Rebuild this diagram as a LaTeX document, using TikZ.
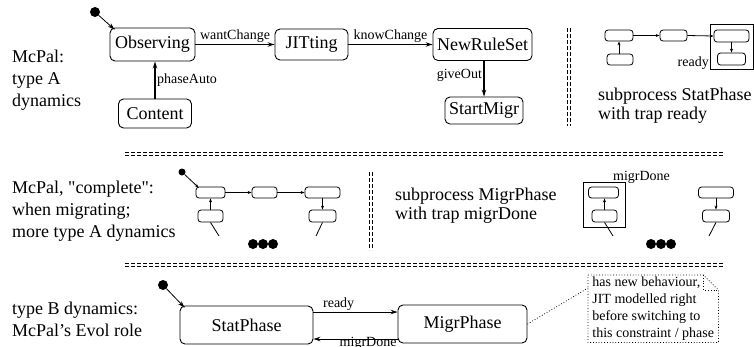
\documentclass[tikz,border=0pt]{standalone}
\usepackage{fontspec}
\setmainfont{Liberation Serif}
\usetikzlibrary{arrows.meta}
\begin{document}
\begin{tikzpicture}[x=1pt,y=-1pt,
  st/.style={draw, rounded corners=5, line width=0.9, inner sep=0, font=\fontsize{18}{18}\selectfont},
  mini/.style={draw, rounded corners=3, line width=0.8, inner sep=0},
  lbl/.style={font=\fontsize{14}{14}\selectfont, inner sep=1.5},
  big/.style={font=\fontsize{18}{22}\selectfont, align=left, inner sep=0},
  sub/.style={font=\fontsize{18}{18.5}\selectfont, align=left, inner sep=0},
  tr/.style={-{Stealth[length=7,width=4.5]}, line width=1.1},
  mtr/.style={-{Stealth[length=4,width=3]}, line width=0.8},
  sepl/.style={dash pattern=on 4 off 2, line width=0.8},
  initdot/.style={circle, fill, inner sep=0, minimum size=#1},
]
\useasboundingbox (0,0) rectangle (754,346);

% ---------- row 1 ----------
\node[big, anchor=north west] (t1) at (12,50) {McPal:\\type A\\dynamics};
\node[initdot=10] (i1) at (95,12) {};
\node[st, minimum width=85, minimum height=33] (obs) at (152.5,44.5) {Observing};
\node[st, minimum width=73, minimum height=31] (jit) at (311.5,44.5) {JITting};
\node[st, minimum width=99, minimum height=32] (nrs) at (482.5,44.5) {NewRuleSet};
\node[st, minimum width=73, minimum height=29] (cont) at (155,113.5) {Content};
\node[st, minimum width=78, minimum height=27] (sm) at (484,110.5) {StartMigr};
\draw[tr, line width=0.8] (i1) -- ([shift={(5,2)}]obs.north west);
\draw[tr] (obs.east) -- node[lbl, above] {wantChange} (jit.west);
\draw[tr] (jit.east) -- node[lbl, above] {knowChange} (nrs.west);
\draw[tr] (cont.north) -- node[lbl, right] {phaseAuto} (cont.north |- obs.south);
\draw[tr] (sm.north |- nrs.south) -- node[lbl, left, pos=0.4] {giveOut} (sm.north);

\draw[sepl] (567,28) -- (567,126);
\draw[sepl] (570,28) -- (570,126);

% mini StatPhase
\node[mini, minimum width=28, minimum height=11] (m1) at (619,35.5) {};
\node[mini, minimum width=26, minimum height=11] (m2) at (620,59.5) {};
\node[mini, minimum width=27, minimum height=11] (m3) at (673.5,35.5) {};
\node[draw, line width=0.8, minimum width=43, minimum height=45, inner sep=0] (sq1) at (731.5,46.5) {};
\node[mini, minimum width=35, minimum height=12] (m4) at (731.5,36) {};
\node[mini, minimum width=28, minimum height=12] (m5) at (731.5,59) {};
\draw[mtr] (m2.north -| m1.south) -- (m1.south);
\draw[mtr] (m1.east) -- (m3.west);
\draw[mtr] (m3.east) -- (m4.west);
\draw[mtr] (m4.south) -- (m5.north);
\node[lbl, anchor=base east, inner sep=0] (rdy1) at (709,66) {ready};
\node[sub, anchor=north west] (s1) at (598,88) {subprocess StatPhase\\with trap ready};

% ---------- separator ----------
\draw[sepl] (125,152) -- (723,152);
\draw[sepl] (125,155) -- (723,155);

% ---------- row 2 ----------
\node[big, anchor=north west] (t2) at (12,181) {McPal, \textquotedbl complete\textquotedbl :\\when migrating;\\more type A dynamics};
\node[initdot=7] (i2) at (182,172) {};
\node[mini, minimum width=29, minimum height=11] (a) at (210.5,192.5) {};
\node[mini, minimum width=25, minimum height=12] (b) at (210.5,216) {};
\node[mini, minimum width=25, minimum height=11] (c) at (264.5,192.5) {};
\node[mini, minimum width=35, minimum height=11] (d) at (322.5,192.5) {};
\node[mini, minimum width=27, minimum height=12] (e) at (322.5,216) {};
\draw[mtr] (i2) -- ([shift={(3,1)}]a.north west);
\draw[mtr] (b.north) -- (a.south);
\draw[mtr] (a.east) -- (c.west);
\draw[mtr] (c.east) -- (d.west);
\draw[mtr] (d.south) -- (e.north);
\coordinate (bx) at (219,236);
\coordinate (ex) at (316,236);
\draw[line width=0.8] (b.south) -- (bx);
\draw[line width=0.8] (e.south) -- (ex);
\node[initdot=10] (d1) at (253,244) {};
\node[initdot=10] (d2) at (263,244) {};
\node[initdot=10] (d3) at (273,244) {};

\draw[sepl] (369,172) -- (369,250);
\draw[sepl] (372,172) -- (372,250);

\node[sub, anchor=north west] (s2) at (395,188) {subprocess MigrPhase\\with trap migrDone};
\node[draw, line width=0.8, minimum width=42, minimum height=45, inner sep=0] (sq2) at (604,204.5) {};
\node[lbl, anchor=base, inner sep=0] (md) at (641.5,180) {migrDone};
\node[mini, minimum width=30, minimum height=11] (f) at (603.5,192.5) {};
\node[mini, minimum width=25, minimum height=12] (g) at (604.5,216) {};
\draw[mtr] (g.north) -- (g.north |- f.south);
\coordinate (gx) at (613,236);
\draw[line width=0.8] (g.south) -- (gx);
\node[mini, minimum width=35, minimum height=11] (h) at (716,192.5) {};
\node[mini, minimum width=27, minimum height=12] (k) at (716,216) {};
\draw[mtr] (h.south) -- (k.north);
\coordinate (kx) at (709,236);
\draw[line width=0.8] (k.south) -- (kx);
\node[initdot=10] (d4) at (651,244) {};
\node[initdot=10] (d5) at (661,244) {};
\node[initdot=10] (d6) at (671,244) {};

% ---------- separator ----------
\draw[sepl] (125,263) -- (723,263);
\draw[sepl] (125,266) -- (723,266);

% ---------- row 3 ----------
\node[big, anchor=north west] (t3) at (12,302) {type B dynamics:\\McPal's Evol role};
\node[initdot=10] (i3) at (163,285) {};
\node[st, minimum width=133, minimum height=38] (stat) at (246.5,325) {StatPhase};
\node[st, minimum width=129, minimum height=38] (mig) at (462.5,324) {MigrPhase};
\draw[tr, line width=0.8] (i3) -- ([shift={(5,2)}]stat.north west);
\draw[tr, line width=0.9] ([yshift=13]stat.east) -- node[lbl, above, pos=0.3] {ready} ([yshift=12]mig.west);
\draw[tr, line width=0.9] ([yshift=-15]mig.west) -- coordinate[pos=0.35] (mdpos) ([yshift=-14]stat.east);
\node[lbl, anchor=base, inner sep=0] (mdl) at ([yshift=-7]mdpos) {migrDone};

\node[font=\fontsize{14}{17}\selectfont, align=left, anchor=north west, inner xsep=2, inner ysep=0,
      minimum width=130, minimum height=67] (note) at (588,275)
  {has new behaviour,\\JIT modelled right\\before switching to\\this constraint / phase};
\draw[dotted, line width=0.8] (note.north west) -- ([xshift=-15]note.north east) -- ([yshift=-15]note.north east) -- (note.south east) -- (note.south west) -- cycle;
\draw[dotted, line width=0.8] ([xshift=-15]note.north east) -- ([xshift=-15,yshift=-15]note.north east) -- ([yshift=-15]note.north east);
\draw[dotted, line width=0.8] (mig.east) -- ([yshift=-13]note.north west);
\end{tikzpicture}
\end{document}
